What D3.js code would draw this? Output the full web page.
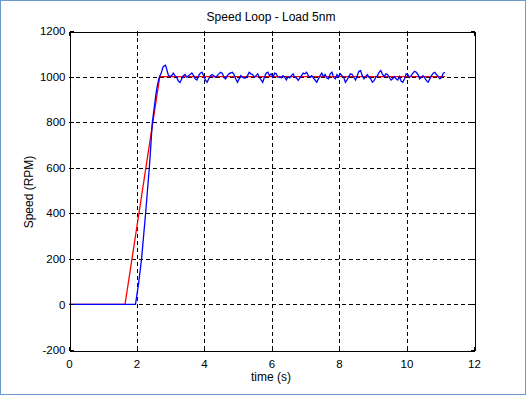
<!DOCTYPE html>
<html>
<head>
<meta charset="utf-8">
<script src="https://cdn.jsdelivr.net/npm/d3@7"></script>
<style>
  html, body { margin: 0; padding: 0; background: #fff; }
  svg { display: block; }
  text { font-family: "Liberation Sans", Arial, sans-serif; fill: #000; }
</style>
</head>
<body>
<svg id="chart" width="526" height="395"></svg>
<script>
// ---- data ----
const titleText = "Speed Loop - Load 5nm";
const xLabel = "time (s)";
const yLabel = "Speed (RPM)";
const xTicks = [0, 2, 4, 6, 8, 10, 12];
const yTicks = [-200, 0, 200, 400, 600, 800, 1000, 1200];
const xTickLabels = ["0", "2", "4", "6", "8", "10", "12"];
const yTickLabels = ["-200", "0", "200", "400", "600", "800", "1000", "1200"];

// reference (red)
const refTime = [0, 1.66, 2.69, 11.14];
const refSpeed = [0, 0, 1000, 1000];

// measured (blue) – start-up part
const rampTime = [0, 1.97, 2.00, 2.06, 2.11, 2.15, 2.21, 2.27, 2.33, 2.38, 2.43, 2.47, 2.53, 2.58, 2.63, 2.68, 2.73, 2.79, 2.86, 2.89, 2.94, 2.99];
const rampSpeed = [0, 0, 30, 90, 150, 200, 300, 400, 510, 600, 710, 800, 868, 927, 970, 999, 1014, 1043, 1050, 1036, 1007, 999];

// measured (blue) – steady part, sampled every 0.05 s from 3.04 s
const steadyStart = 3.04;
const steadyStep = 0.05;
const steadySpeed = [
  1004,1015,1004,997,980,974,990,1004,1009,997,1004,1009,1016,1004,990,985,1004,1015,1019,1004,
  985,975,990,1004,1009,1004,997,1004,1012,1019,1015,997,990,1004,1012,1016,1019,1009,990,975,
  990,1004,997,993,994,1004,1019,1012,
  1009,997,1004,1012,997,985,975,997,1015,1019,1004,1012,997,1015,1012,997,1000,994,1004,997,
  985,1000,994,1004,1012,997,994,983,994,1004,1015,1012,1019,1004,997,1004,994,985,975,990,
  1004,1015,1000,1009,
  994,990,
  1012,1019,997,990,1009,1000,1012,1004,997,975,985,1000,1012,1009,997,985,1004,1023,1026,1004,
  990,1000,1009,997,990,975,982,997,1004,1019,1026,1009,1000,1012,1009,997,985,990,1000,990,
  985,1000,980,975,990,1012,1009,997,1004,1015,1023,1019,1009,990,997,1004,994,982,975,990,
  1004,1015,1019,1009,1000,990,997,1015,1019
];

// ---- layout ----
const W = 526, H = 395;
const L = 69, T = 31, R = 474, B = 350;

const svg = d3.select("#chart");

// window border
svg.append("rect")
  .attr("x", 0.5).attr("y", 0.5)
  .attr("width", W - 1).attr("height", H - 1)
  .attr("fill", "#fff")
  .attr("stroke", "#6a9ad0").attr("stroke-width", 1);

const x = d3.scaleLinear().domain([0, 12]).range([L, R]);
const y = d3.scaleLinear().domain([-200, 1200]).range([B, T]);

const px = v => Math.round(v) + 0.5;

// grid
const grid = svg.append("g").attr("shape-rendering", "crispEdges");
grid.selectAll("line.gx").data(xTicks.slice(1, -1)).join("line")
  .attr("x1", d => px(x(d))).attr("x2", d => px(x(d)))
  .attr("y1", T).attr("y2", B)
  .attr("stroke", "#000").attr("stroke-dasharray", "4,3");
grid.selectAll("line.gy").data(yTicks.slice(1, -1)).join("line")
  .attr("y1", d => px(y(d))).attr("y2", d => px(y(d)))
  .attr("x1", L).attr("x2", R)
  .attr("stroke", "#000").attr("stroke-dasharray", "4,3");

// series
svg.append("clipPath").attr("id", "clip")
  .append("rect").attr("x", L).attr("y", T).attr("width", R - L).attr("height", B - T);

const refData = refTime.map((t, i) => [t, refSpeed[i]]);
const measData = rampTime.map((t, i) => [t, rampSpeed[i]])
  .concat(steadySpeed.map((v, i) => [steadyStart + i * steadyStep, v]));

const line = d3.line().x(d => x(d[0])).y(d => y(d[1]));

const plot = svg.append("g").attr("clip-path", "url(#clip)");
plot.append("path").datum(refData)
  .attr("d", line).attr("fill", "none")
  .attr("stroke", "#ff0000").attr("stroke-width", 1.3);
plot.append("path").datum(measData)
  .attr("d", line).attr("fill", "none")
  .attr("stroke", "#0000ff").attr("stroke-width", 1.3)
  .attr("stroke-linejoin", "miter");

// axes (box with inward ticks)
const tickLen = 4;
const xFmt = d => xTickLabels[xTicks.indexOf(d)];
const yFmt = d => yTickLabels[yTicks.indexOf(d)];
const axB = svg.append("g").attr("transform", `translate(0,${px(B)})`)
  .call(d3.axisBottom(x).tickValues(xTicks).tickFormat(xFmt).tickSizeInner(-tickLen).tickSizeOuter(0).tickPadding(8));
const axT = svg.append("g").attr("transform", `translate(0,${px(T)})`)
  .call(d3.axisTop(x).tickValues(xTicks).tickSizeInner(-tickLen).tickSizeOuter(0).tickFormat(""));
const axL = svg.append("g").attr("transform", `translate(${px(L)},0)`)
  .call(d3.axisLeft(y).tickValues(yTicks).tickFormat(yFmt).tickSizeInner(-tickLen).tickSizeOuter(0).tickPadding(8));
const axR = svg.append("g").attr("transform", `translate(${px(R)},0)`)
  .call(d3.axisRight(y).tickValues(yTicks).tickSizeInner(-tickLen).tickSizeOuter(0).tickFormat(""));

[axB, axT, axL, axR].forEach(a => {
  a.attr("shape-rendering", "crispEdges");
  a.select(".domain").attr("stroke", "#000");
  a.selectAll(".tick line").attr("stroke", "#000");
  a.selectAll("text").attr("font-family", "Liberation Sans, Arial, sans-serif")
    .attr("font-size", "11.5px").attr("fill", "#000");
});
axB.selectAll("text").attr("dy", "0.71em").attr("y", 9);
axL.selectAll("text").attr("x", -4);

// title and labels
svg.append("text").attr("x", 271).attr("y", 21)
  .attr("text-anchor", "middle").attr("font-size", "12px").text(titleText);
svg.append("text").attr("x", 271).attr("y", 381)
  .attr("text-anchor", "middle").attr("font-size", "12px").text(xLabel);
svg.append("text").attr("transform", "translate(33,192) rotate(-90)")
  .attr("text-anchor", "middle").attr("font-size", "12px").text(yLabel);
</script>
</body>
</html>
